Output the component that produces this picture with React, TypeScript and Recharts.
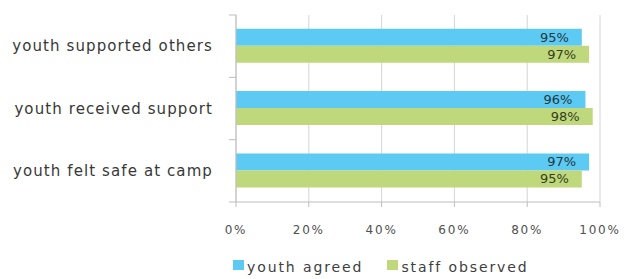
import React from "react";
import { BarChart, Bar, XAxis, YAxis, CartesianGrid, Legend, LabelList } from "recharts";

const categories = ["youth supported others", "youth received support", "youth felt safe at camp"];
const youthAgreed = [95, 96, 97];
const staffObserved = [97, 98, 95];
const xTicks = [0, 20, 40, 60, 80, 100];

const BLUE = "#5ccaf2";
const GREEN = "#bfd87c";
const FONT = "'DejaVu Sans', sans-serif";
const AXIS = "#bdbdbd";
const CAT_GAP = 17;
const CAT_TICK = 6;

const data = categories.map((name, i) => ({
  name,
  agreed: youthAgreed[i],
  observed: staffObserved[i],
}));

const pct = (v: any) => `${v}%`;

// category label plus the small tick marks between bands
const CatTick = (props: any) => {
  const { x, y, payload, index } = props;
  const half = payload.offset || 0;
  const ax = x + CAT_GAP + CAT_TICK;
  return (
    <g>
      <line x1={ax - 7} x2={ax} y1={y - half} y2={y - half} stroke={AXIS} />
      {index === categories.length - 1 && (
        <line x1={ax - 7} x2={ax} y1={y + half} y2={y + half} stroke={AXIS} />
      )}
      <text x={x} y={y} dy="0.355em" textAnchor="end" fill="#383838" fontSize={15} fontFamily={FONT} letterSpacing={1.1}>
        {payload.value}
      </text>
    </g>
  );
};

const LegendBox = (props: any) => {
  const items = [...(props.payload || [])].sort((a: any, b: any) =>
    String(a.dataKey).localeCompare(String(b.dataKey))
  );
  return (
    <div style={{ display: "flex", alignItems: "center", fontFamily: FONT, fontSize: 14, letterSpacing: 1.9, color: "#404040" }}>
      {items.map((it: any) => (
        <div key={it.value} style={{ display: "flex", alignItems: "center", marginRight: 24 }}>
          <span style={{ display: "inline-block", width: 11, height: 10, background: it.color, marginRight: 3, marginTop: -4 }} />
          <span>{it.value}</span>
        </div>
      ))}
    </div>
  );
};

export default function App() {
  return (
    <div style={{ position: "absolute", left: 0, top: 0, background: "#fff", fontFamily: FONT }}>
      <BarChart
        width={626}
        height={279}
        data={data}
        layout="vertical"
        margin={{ top: 15, right: 26, left: 0, bottom: 4 }}
        barCategoryGap="22%"
        barGap={0}
      >
        <CartesianGrid horizontal={false} stroke="#d4d4d4" />
        <XAxis
          type="number"
          domain={[0, 100]}
          ticks={xTicks}
          tickFormatter={pct}
          axisLine={{ stroke: AXIS }}
          tickLine={{ stroke: AXIS }}
          tickSize={5}
          tickMargin={18}
          height={57}
          tick={{ fill: "#505050", fontSize: 12, fontFamily: FONT, letterSpacing: 1.8 }}
        />
        <YAxis
          type="category"
          dataKey="name"
          width={236}
          axisLine={{ stroke: AXIS }}
          tickLine={false}
          tickSize={CAT_TICK}
          tickMargin={CAT_GAP}
          tick={<CatTick />}
        />
        <Legend verticalAlign="bottom" align="left" wrapperStyle={{ left: 233 }} content={LegendBox} />
        <Bar dataKey="agreed" name="youth agreed" fill={BLUE} isAnimationActive={false}>
          <LabelList dataKey="agreed" position="insideRight" offset={13} formatter={pct} fill="#243840" fontSize={13} fontFamily={FONT} />
        </Bar>
        <Bar dataKey="observed" name="staff observed" fill={GREEN} isAnimationActive={false}>
          <LabelList dataKey="observed" position="insideRight" offset={13} formatter={pct} fill="#363d1c" fontSize={13} fontFamily={FONT} />
        </Bar>
      </BarChart>
    </div>
  );
}
